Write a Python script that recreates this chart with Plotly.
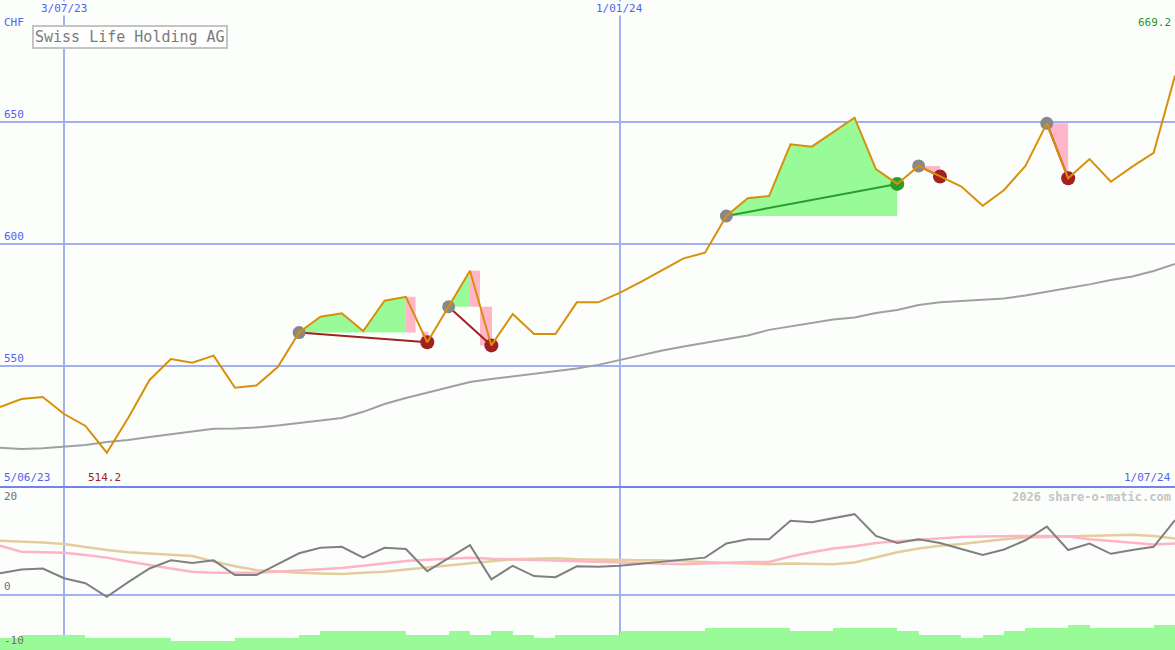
import plotly.graph_objects as go
import pandas as pd

# ---------------- data ----------------
week_dates = pd.date_range("2023-06-12", periods=56, freq="7D")

price = [533.0, 536.3, 537.1, 530.1, 525.2, 514.2, 528.5, 544.1, 552.7, 551.2,
         554.1, 540.9, 541.8, 549.4, 563.6, 570.1, 571.5, 564.2, 576.7, 578.3,
         559.6, 574.2, 589.0, 558.3, 571.2, 563.0, 563.0, 576.0, 576.0, 579.9,
         584.4, 589.3, 594.1, 596.4, 611.5, 618.8, 619.7, 641.0, 640.0, 646.0,
         651.9, 630.8, 624.7, 632.1, 627.7, 623.6, 615.7, 622.2, 632.1, 649.6,
         627.0, 634.9, 625.6, 631.8, 637.5, 669.2]

ma_long = [516.2, 515.7, 516.0, 516.6, 517.4, 518.6, 519.4, 520.7, 521.9, 523.1,
           524.0, 524.2, 524.6, 525.4, 526.4, 527.3, 528.5, 531.0, 534.2, 536.7,
           538.8, 541.2, 543.3, 544.5, 545.5, 546.6, 547.6, 548.8, 550.3, 552.3,
           554.4, 556.2, 557.9, 559.3, 560.7, 562.4, 564.7, 566.1, 567.5, 569.0,
           569.8, 571.6, 572.9, 574.9, 576.0, 576.6, 577.0, 577.6, 578.8, 580.5,
           581.9, 583.4, 585.2, 586.6, 588.9, 591.8]

osc = [4.0, 4.7, 4.9, 3.1, 2.2, -0.3, 2.4, 4.9, 6.4, 5.9,
       6.4, 3.7, 3.7, 5.7, 7.7, 8.7, 8.9, 6.9, 8.7, 8.5,
       4.4, 6.8, 9.2, 2.9, 5.4, 3.5, 3.3, 5.3, 5.2, 5.4,
       5.8, 6.2, 6.6, 6.9, 9.5, 10.3, 10.3, 13.7, 13.4, 14.2,
       14.9, 10.9, 9.6, 10.3, 9.6, 8.5, 7.4, 8.4, 10.1, 12.6,
       8.3, 9.5, 7.6, 8.3, 8.9, 13.8]

osc_fast = [9.1, 8.0, 7.9, 7.8, 7.4, 6.9, 6.2, 5.5, 4.9, 4.3,
            4.1, 4.1, 4.1, 4.3, 4.5, 4.7, 5.0, 5.4, 5.9, 6.3,
            6.5, 6.7, 6.9, 6.7, 6.6, 6.5, 6.4, 6.3, 6.2, 6.1,
            5.9, 5.8, 5.7, 5.8, 6.0, 6.1, 6.1, 7.1, 7.9, 8.6,
            9.0, 9.6, 9.9, 10.2, 10.5, 10.7, 10.8, 10.9, 10.9, 10.9,
            10.8, 10.3, 10.0, 9.7, 9.3, 9.5]

osc_slow = [10.0, 9.9, 9.7, 9.4, 8.8, 8.3, 7.9, 7.7, 7.5, 7.2,
            6.2, 5.3, 4.6, 4.3, 4.1, 4.0, 3.9, 4.1, 4.3, 4.7,
            5.1, 5.5, 5.9, 6.3, 6.6, 6.7, 6.8, 6.6, 6.5, 6.4,
            6.4, 6.4, 6.3, 6.1, 5.9, 5.8, 5.7, 5.8, 5.8, 5.7,
            6.0, 7.0, 7.9, 8.6, 9.1, 9.4, 9.9, 10.3, 10.6, 10.7,
            10.8, 10.9, 10.9, 11.1, 10.9, 10.4]

volume_bars = [-7.9, -7.4, -7.4, -7.4, -7.9, -7.9, -7.9, -7.9, -8.5, -8.5,
               -8.5, -7.9, -7.9, -7.9, -7.4, -6.6, -6.6, -6.6, -6.6, -7.4,
               -7.4, -6.6, -7.4, -6.6, -7.4, -7.9, -7.4, -7.4, -7.4, -6.6,
               -6.6, -6.6, -6.6, -6.0, -6.0, -6.0, -6.0, -6.6, -6.6, -6.0,
               -6.0, -6.0, -6.6, -7.4, -7.4, -7.9, -7.4, -6.6, -6.0, -6.0,
               -5.5, -6.0, -6.0, -6.0, -5.5]

entry_idx = [14, 21, 34, 43, 49]
exit_idx = [20, 23, 42, 44, 50]
peak_idx = [19, 22, 42]          # green (gain) zones for first three trades
trade_win = [False, False, True, False, False]

# pink drawdown zones (fractional week index, price low/high)
pink_x0 = [19.0, 19.74, 22.0, 22.47]
pink_x1 = [19.45, 20.05, 22.47, 23.03]
pink_lo = [563.6, 559.6, 574.2, 558.3]
pink_hi = [578.3, 564.0, 589.0, 574.2]
pink_triangle_trades = [3, 4]

grid_dates = ["2023-07-03", "2024-01-01"]
grid_labels = ["3/07/23", "1/01/24"]
price_ticks = [550, 600, 650]
osc_ticks = [0, -10]
osc_top_label = "20"

title = "Swiss Life Holding AG"
currency = "CHF"
last_label = "669.2"
min_label = "514.2"
start_label = "5/06/23"
end_label = "1/07/24"
credit = "2026 share-o-matic.com"

# ---------------- styles ----------------
BG = "#fcfefc"
GRID = "#a4aff2"
SEP = "#7383ea"
BLUE = "#5262ee"
ORANGE = "#d8900a"
MA_GRAY = "#a0a0a0"
OSC_GRAY = "#808080"
PALEGREEN = "#98fb98"
PINK = "#ffb6c8"
TAN = "#e3cd9c"
OSC_PINK = "#ffb4c4"
DARKRED = "#a32020"
GREEN = "#2a9e2a"
DOT_GRAY = "#888888"
FONT = "DejaVu Sans Mono"


def wx(f):
    return week_dates[0] + pd.Timedelta(days=7 * f)


fig = go.Figure()

# green gain zones
for t, pk in enumerate(peak_idx):
    e = entry_idx[t]
    lvl = price[e]
    xs = [wx(e)] + [wx(k) for k in range(e + 1, pk + 1)] + [wx(pk), wx(e)]
    ys = [lvl] + [price[k] for k in range(e + 1, pk + 1)] + [lvl, lvl]
    fig.add_trace(go.Scatter(x=xs, y=ys, fill="toself", fillcolor=PALEGREEN,
                             mode="lines", line=dict(width=0), hoverinfo="skip",
                             xaxis="x", yaxis="y"))

# pink drawdown zones
for a, b, lo, hi in zip(pink_x0, pink_x1, pink_lo, pink_hi):
    fig.add_trace(go.Scatter(x=[wx(a), wx(b), wx(b), wx(a), wx(a)],
                             y=[lo, lo, hi, hi, lo], fill="toself", fillcolor=PINK,
                             mode="lines", line=dict(width=0), hoverinfo="skip"))
for t in pink_triangle_trades:
    e, x = entry_idx[t], exit_idx[t]
    fig.add_trace(go.Scatter(x=[wx(e), wx(x), wx(x), wx(e)],
                             y=[price[e], price[e], price[x], price[e]],
                             fill="toself", fillcolor=PINK, mode="lines",
                             line=dict(width=0), hoverinfo="skip"))

# long moving average
fig.add_trace(go.Scatter(x=week_dates, y=ma_long, mode="lines",
                         line=dict(color=MA_GRAY, width=2), hoverinfo="skip"))

# trade connection lines
for t in range(len(entry_idx)):
    e, x = entry_idx[t], exit_idx[t]
    fig.add_trace(go.Scatter(x=[wx(e), wx(x)], y=[price[e], price[x]], mode="lines",
                             line=dict(color=GREEN if trade_win[t] else DARKRED, width=2),
                             hoverinfo="skip"))

# markers
fig.add_trace(go.Scatter(x=[wx(e) for e in entry_idx], y=[price[e] for e in entry_idx],
                         mode="markers", marker=dict(color=DOT_GRAY, size=13, line=dict(width=0)),
                         hoverinfo="skip"))
fig.add_trace(go.Scatter(x=[wx(exit_idx[t]) for t in range(len(exit_idx))],
                         y=[price[exit_idx[t]] for t in range(len(exit_idx))],
                         mode="markers",
                         marker=dict(color=[GREEN if w else DARKRED for w in trade_win],
                                     size=14, line=dict(width=0)),
                         hoverinfo="skip"))

# price line on top
fig.add_trace(go.Scatter(x=week_dates, y=price, mode="lines",
                         line=dict(color=ORANGE, width=2), hoverinfo="skip"))

# ---------- lower panel ----------
fig.add_trace(go.Bar(x=[wx(i + 0.5) for i in range(len(volume_bars))],
                     y=[v + 11 for v in volume_bars], base=-11,
                     width=7 * 86400000, marker=dict(color=PALEGREEN, line=dict(width=0)),
                     xaxis="x2", yaxis="y2", hoverinfo="skip"))
fig.add_trace(go.Scatter(x=week_dates, y=osc_slow, mode="lines",
                         line=dict(color=TAN, width=2.5), xaxis="x2", yaxis="y2", hoverinfo="skip"))
fig.add_trace(go.Scatter(x=week_dates, y=osc_fast, mode="lines",
                         line=dict(color=OSC_PINK, width=2.5), xaxis="x2", yaxis="y2", hoverinfo="skip"))
fig.add_trace(go.Scatter(x=week_dates, y=osc, mode="lines",
                         line=dict(color=OSC_GRAY, width=2), xaxis="x2", yaxis="y2", hoverinfo="skip"))

SPLIT = (650 - 487) / 650
xr = [wx(0), wx(55)]
common_x = dict(range=xr, tickvals=grid_dates, showgrid=True, gridcolor=GRID, gridwidth=2,
                showticklabels=False, zeroline=False, showline=False, ticks="", fixedrange=True)
fig.update_layout(
    width=1175, height=650, margin=dict(l=0, r=0, t=0, b=0),
    paper_bgcolor=BG, plot_bgcolor=BG, showlegend=False, bargap=0,
    xaxis=dict(domain=[0, 1], anchor="y", **common_x),
    xaxis2=dict(domain=[0, 1], anchor="y2", **common_x),
    yaxis=dict(domain=[SPLIT, 1], range=[500.1, 700.3], tickvals=price_ticks,
               showgrid=True, gridcolor=GRID, gridwidth=2, showticklabels=False,
               zeroline=False, ticks="", anchor="x"),
    yaxis2=dict(domain=[0, SPLIT], range=[-10.1, 19.9], tickvals=[0],
                showgrid=True, gridcolor=GRID, gridwidth=2, showticklabels=False,
                zeroline=False, ticks="", anchor="x2"),
    shapes=[dict(type="line", xref="paper", yref="paper", x0=0, x1=1, y0=SPLIT, y1=SPLIT,
                 line=dict(color=SEP, width=2))],
)

ann = []
for d, lab in zip(grid_dates, grid_labels):
    ann.append(dict(x=d, xref="x", y=1, yref="paper", yanchor="top", yshift=-1,
                    text=lab, showarrow=False, bgcolor=BG, borderpad=0,
                    font=dict(family=FONT, size=11, color=BLUE)))
for v in price_ticks:
    ann.append(dict(x=0.002, xref="paper", xanchor="left", y=v, yref="y", yanchor="bottom",
                    yshift=-1, text=str(v), showarrow=False,
                    font=dict(family=FONT, size=11, color=BLUE)))
for v in osc_ticks:
    ann.append(dict(x=0.002, xref="paper", xanchor="left", y=v, yref="y2",
                    yanchor="bottom", yshift=0,
                    text=str(v), showarrow=False,
                    font=dict(family=FONT, size=11, color="#707070")))
ann.append(dict(x=0.002, xref="paper", xanchor="left", y=SPLIT, yref="paper",
                yanchor="top", yshift=-1, text=osc_top_label, showarrow=False,
                font=dict(family=FONT, size=11, color="#707070")))
ann.append(dict(x=0.002, xref="paper", xanchor="left", y=1, yref="paper", yanchor="top",
                yshift=-14, text=currency, showarrow=False,
                font=dict(family=FONT, size=11, color=BLUE)))
ann.append(dict(x=0.998, xref="paper", xanchor="right", y=1, yref="paper", yanchor="top",
                yshift=-14, text=last_label, showarrow=False,
                font=dict(family=FONT, size=11, color="#1e961e")))
ann.append(dict(x=32 / 1175, xref="paper", xanchor="left", y=1, yref="paper", yanchor="top",
                yshift=-25, text=title, showarrow=False, bgcolor="#ffffff",
                bordercolor="#c4c4c4", borderwidth=2, borderpad=1,
                font=dict(family=FONT, size=15, color="#7a7a7a")))
ann.append(dict(x=0.002, xref="paper", xanchor="left", y=SPLIT, yref="paper", yanchor="bottom",
                yshift=1, text=start_label, showarrow=False,
                font=dict(family=FONT, size=11, color=BLUE)))
ann.append(dict(x=86 / 1175, xref="paper", xanchor="left", y=SPLIT, yref="paper", yanchor="bottom",
                yshift=1, text=min_label, showarrow=False,
                font=dict(family=FONT, size=11, color=DARKRED)))
ann.append(dict(x=0.998, xref="paper", xanchor="right", y=SPLIT, yref="paper", yanchor="bottom",
                yshift=1, text=end_label, showarrow=False,
                font=dict(family=FONT, size=11, color=BLUE)))
ann.append(dict(x=0.998, xref="paper", xanchor="right", y=SPLIT, yref="paper", yanchor="top",
                yshift=-1, text="<b>" + credit + "</b>", showarrow=False,
                font=dict(family=FONT, size=12, color="#c4c4c4")))
fig.update_layout(annotations=ann)

fig.write_html("out.html", config={"displayModeBar": False},
               post_script="document.body.style.margin='0';document.body.style.overflow='hidden';")
